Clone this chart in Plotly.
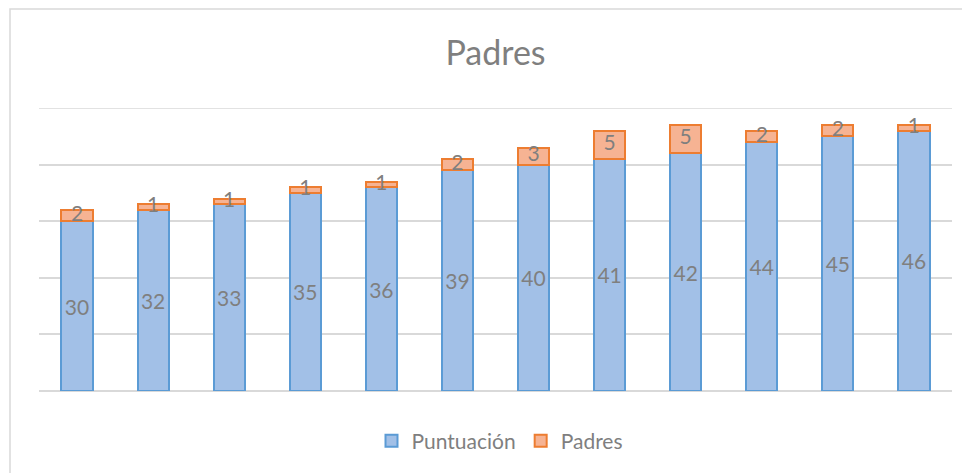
import plotly.graph_objects as go

categories = [str(i) for i in range(1, 13)]
puntuacion = [30, 32, 33, 35, 36, 39, 40, 41, 42, 44, 45, 46]
padres = [2, 1, 1, 1, 1, 2, 3, 5, 5, 2, 2, 1]
y_max = 50

gray = "#7f7f7f"
font_family = "Lato, 'Open Sans', sans-serif"

fig = go.Figure()
fig.add_trace(go.Bar(
    x=categories, y=puntuacion, name="Puntuación",
    marker=dict(color="#a2c0e7", line=dict(color="#5b9bd5", width=2)),
    text=[str(v) for v in puntuacion], textposition="inside",
    insidetextanchor="middle", textangle=0,
    textfont=dict(color=gray, size=21, family=font_family),
    hoverinfo="skip",
))
fig.add_trace(go.Bar(
    x=categories, y=padres, name="Padres",
    marker=dict(color="#f6b393", line=dict(color="#ed7d31", width=2)),
    hoverinfo="skip",
))
fig.add_trace(go.Scatter(
    x=categories, y=[p + q / 2 for p, q in zip(puntuacion, padres)],
    mode="text", text=[str(v) for v in padres],
    textfont=dict(color=gray, size=21, family=font_family),
    showlegend=False, hoverinfo="skip", cliponaxis=False,
))

# page body has an 8px margin; figure coordinates = screen coordinates - 8
OFF = 8
W, H = 962, 465
L, T = 39 - OFF, 108 - OFF
R = W - (952 - OFF)
B = H - (391 - OFF)
pw, ph = W - L - R, H - T - B

fig.update_layout(
    width=W, height=H, barmode="stack", bargap=0.59,
    margin=dict(l=L, r=R, t=T, b=B, autoexpand=False),
    paper_bgcolor="white", plot_bgcolor="white",
    title=dict(text="Padres", x=(495.5 - OFF - L) / pw, xref="paper", xanchor="center",
               y=1 - (53 - OFF) / H, yanchor="middle",
               font=dict(size=34, color=gray, family=font_family)),
    xaxis=dict(range=[-0.5, len(categories) - 0.5], showticklabels=False, showgrid=False,
               zeroline=False, showline=False, ticks=""),
    yaxis=dict(range=[0, y_max], dtick=10, showticklabels=False, showgrid=True,
               gridcolor="#d9d9d9", gridwidth=1.5, zeroline=True, zerolinecolor="#d9d9d9",
               zerolinewidth=1.5, showline=False, ticks=""),
    legend=dict(orientation="h", x=(500 - OFF - L) / pw, xanchor="center",
                y=-(441 - 391) / ph, yanchor="middle",
                traceorder="normal",
                font=dict(size=21, color=gray, family=font_family), itemwidth=30),
    shapes=[
        dict(type="rect", xref="paper", yref="paper",
             x0=(10 - OFF - L) / pw, x1=(W + 5 - L) / pw,
             y0=-(H + 5 - (T + ph)) / ph, y1=1 + (T - (9 - OFF)) / ph,
             line=dict(color="#d9d9d9", width=1.5), fillcolor="rgba(0,0,0,0)", layer="below"),
        dict(type="line", xref="paper", yref="y", x0=0, x1=1, y0=y_max, y1=y_max,
             line=dict(color="#d9d9d9", width=1.5), layer="below"),
    ],
)

fig.write_html("out.html")
